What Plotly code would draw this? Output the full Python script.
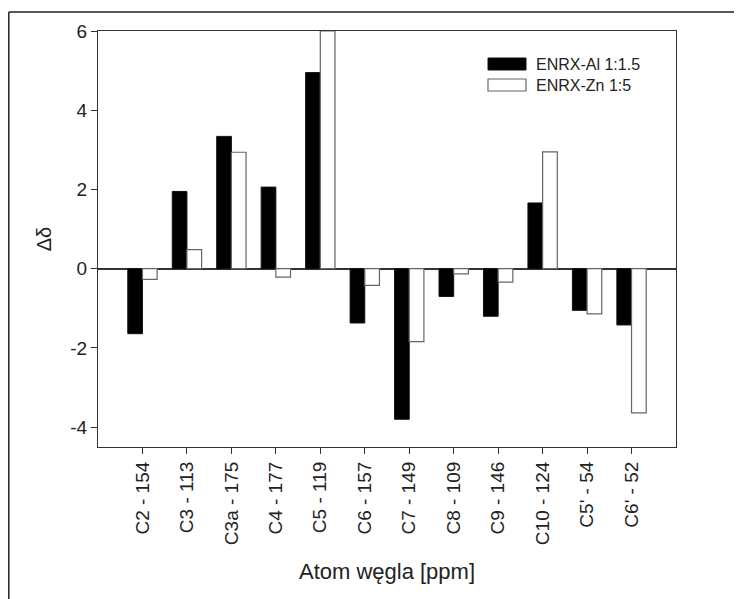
import plotly.graph_objects as go

categories = ["C2 - 154", "C3 - 113", "C3a - 175", "C4 - 177", "C5 - 119", "C6 - 157",
              "C7 - 149", "C8 - 109", "C9 - 146", "C10 - 124", "C5' - 54", "C6' - 52"]
al_values = [-1.64, 1.95, 3.34, 2.06, 4.95, -1.37, -3.80, -0.70, -1.20, 1.66, -1.05, -1.42]
zn_values = [-0.27, 0.48, 2.94, -0.21, 6.00, -0.42, -1.84, -0.13, -0.34, 2.95, -1.14, -3.64]
series_names = ["ENRX-Al 1:1.5", "ENRX-Zn 1:5"]
y_ticks = [-4, -2, 0, 2, 4, 6]
y_tick_labels = ["-4", "-2", "0", "2", "4", "6"]

FONT = "Arial, Liberation Sans, sans-serif"

fig = go.Figure()
fig.add_trace(go.Bar(x=categories, y=al_values, name=series_names[0],
                     marker=dict(color="black", line=dict(color="#111", width=1)),
                     showlegend=False))
fig.add_trace(go.Bar(x=categories, y=zn_values, name=series_names[1],
                     marker=dict(color="white", line=dict(color="#666", width=1.2)),
                     showlegend=False))

# page is rendered with an 8px body margin; work in page pixels and convert
OFF = 8
W, H = 742 - OFF, 599 - OFF
L, R, T, B = 98 - OFF, 742 - 676, 31 - OFF, 599 - 447


def px_x(p):
    return (p - OFF - L) / (W - L - R)


def px_y(p):
    return (H - B - (p - OFF)) / (H - T - B)


shapes = [
    # outer image frame (top and left)
    dict(type="line", xref="paper", yref="paper", x0=px_x(8.8), x1=px_x(760), y0=px_y(12), y1=px_y(12),
         line=dict(color="#222", width=1.5)),
    dict(type="line", xref="paper", yref="paper", x0=px_x(8.8), x1=px_x(8.8), y0=px_y(12), y1=px_y(620),
         line=dict(color="#222", width=1.5)),
    # legend swatches
    dict(type="rect", xref="paper", yref="paper", x0=px_x(488), x1=px_x(526), y0=px_y(70), y1=px_y(58),
         fillcolor="black", line=dict(color="#111", width=1)),
    dict(type="rect", xref="paper", yref="paper", x0=px_x(488), x1=px_x(526), y0=px_y(91), y1=px_y(79),
         fillcolor="white", line=dict(color="#666", width=1.2)),
]
annotations = [
    dict(xref="paper", yref="paper", x=px_x(534), y=px_y(64), text=series_names[0], showarrow=False,
         xanchor="left", yanchor="middle", font=dict(family=FONT, size=16, color="#222")),
    dict(xref="paper", yref="paper", x=px_x(534), y=px_y(85), text=series_names[1], showarrow=False,
         xanchor="left", yanchor="middle", font=dict(family=FONT, size=16, color="#222")),
]

fig.update_layout(
    width=W, height=H,
    margin=dict(l=L, r=R, t=T, b=B),
    paper_bgcolor="white", plot_bgcolor="white",
    barmode="group", bargap=0.34, bargroupgap=0,
    font=dict(family=FONT, color="#222"),
    shapes=shapes, annotations=annotations,
    xaxis=dict(
        type="category", range=[-1, 12],
        showline=True, linecolor="#333", linewidth=1.2, mirror=True,
        ticks="outside", ticklen=6, tickcolor="#333", tickwidth=1.2,
        tickangle=-90, tickfont=dict(family=FONT, size=19, color="#222"),
        showgrid=False, zeroline=False,
        title=dict(text="Atom węgla [ppm]", font=dict(family=FONT, size=22, color="#222"), standoff=19),
    ),
    yaxis=dict(
        range=[-4.5, 6], tickvals=y_ticks, ticktext=y_tick_labels,
        showline=True, linecolor="#333", linewidth=1.2, mirror=True,
        ticks="outside", ticklen=6, tickcolor="#333", tickwidth=1.2,
        tickfont=dict(family=FONT, size=19, color="#222"),
        showgrid=False, zeroline=True, zerolinecolor="#333", zerolinewidth=1.5,
        title=dict(text="Δδ", font=dict(family=FONT, size=20, color="#222"), standoff=13),
    ),
)

fig.write_html("out.html")
